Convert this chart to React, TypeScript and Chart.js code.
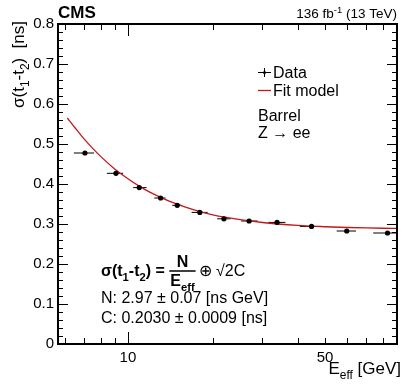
import React, { useEffect, useRef } from 'react';
import { Chart, registerables } from 'chart.js';

Chart.register(...registerables);

// ---- data ----
const energy = [7.04, 9.07, 10.97, 13.06, 14.96, 17.99, 21.9, 26.9, 33.8, 44.8, 59.7, 83.3];
const sigma = [0.4775, 0.4267, 0.391, 0.365, 0.3467, 0.329, 0.313, 0.3075, 0.304, 0.294, 0.2825, 0.2775];
const sigmaErr = [0.004, 0.003, 0.002, 0.002, 0.002, 0.002, 0.002, 0.002, 0.002, 0.002, 0.003, 0.004];
const energyLow = [6.43, 8.42, 10.44, 12.4, 14.36, 16.82, 20.73, 25.22, 31.45, 40.7, 55.0, 74.1];
const energyHigh = [7.58, 9.62, 11.65, 13.6, 15.5, 19.17, 23.13, 28.84, 36.2, 48.9, 64.4, 90];

const fitEnergy = [6.1, 6.5, 7, 7.5, 8, 9, 10, 11, 12, 14, 16, 18, 20, 25, 30, 40, 50, 60, 70, 80, 90];
const fitSigma = [0.565, 0.54, 0.512, 0.489, 0.469, 0.437, 0.413, 0.394, 0.379, 0.357, 0.342, 0.331, 0.323, 0.311, 0.3037, 0.2965, 0.2931, 0.2912, 0.2901, 0.2894, 0.2889];

const xMin = 5.65;
const xMax = 90;
const yMin = 0;
const yMax = 0.8;
const xLabelValues = [10, 50];
const xMajorTicks = [10];
const xMinorTicks = [6, 7, 8, 9, 20, 30, 40, 50, 60, 70, 80, 90];
const yMajorTicks = [0, 0.1, 0.2, 0.3, 0.4, 0.5, 0.6, 0.7, 0.8];

const FONT = '"Liberation Sans", Arial, Helvetica, sans-serif';
const RED = '#c01a1a';

type Part = { t: string; k?: 'sub' | 'sup' };

function setFont(ctx: CanvasRenderingContext2D, size: number, bold: boolean) {
  ctx.font = `${bold ? 'bold ' : ''}${size}px ${FONT}`;
}

function partsWidth(ctx: CanvasRenderingContext2D, parts: Part[], size: number, bold: boolean) {
  let w = 0;
  for (const p of parts) {
    const s = p.k ? size * 0.7 : size;
    setFont(ctx, s, bold);
    w += ctx.measureText(p.t).width;
  }
  return w;
}

function drawParts(
  ctx: CanvasRenderingContext2D,
  parts: Part[],
  x: number,
  y: number,
  size: number,
  bold: boolean,
  align: 'left' | 'right' | 'center' = 'left'
) {
  const w = partsWidth(ctx, parts, size, bold);
  let cx = align === 'left' ? x : align === 'right' ? x - w : x - w / 2;
  ctx.textAlign = 'left';
  ctx.textBaseline = 'alphabetic';
  for (const p of parts) {
    const s = p.k ? size * 0.7 : size;
    setFont(ctx, s, bold);
    const dy = p.k === 'sub' ? size * 0.3 : p.k === 'sup' ? -size * 0.4 : 0;
    ctx.fillText(p.t, cx, y + dy);
    cx += ctx.measureText(p.t).width;
  }
  return w;
}

const decorPlugin = {
  id: 'decor',
  beforeDatasetsDraw(chart: any) {
    const ctx: CanvasRenderingContext2D = chart.ctx;
    const xs = chart.scales.x;
    const ys = chart.scales.y;
    const ca = chart.chartArea;
    ctx.save();
    ctx.beginPath();
    ctx.rect(ca.left, ca.top, ca.right - ca.left, ca.bottom - ca.top);
    ctx.clip();
    ctx.strokeStyle = '#000';
    ctx.lineWidth = 1;
    for (let i = 0; i < energy.length; i++) {
      const py = ys.getPixelForValue(sigma[i]);
      const x0 = xs.getPixelForValue(energyLow[i]);
      const x1 = xs.getPixelForValue(energyHigh[i]);
      const px = xs.getPixelForValue(energy[i]);
      ctx.beginPath();
      ctx.moveTo(x0, py);
      ctx.lineTo(x1, py);
      ctx.moveTo(px, ys.getPixelForValue(sigma[i] - sigmaErr[i]));
      ctx.lineTo(px, ys.getPixelForValue(sigma[i] + sigmaErr[i]));
      ctx.stroke();
    }
    ctx.restore();
  },
  afterDraw(chart: any) {
    const ctx: CanvasRenderingContext2D = chart.ctx;
    const xs = chart.scales.x;
    const ys = chart.scales.y;
    const { left, right, top, bottom } = chart.chartArea;
    ctx.save();
    ctx.fillStyle = '#000';
    ctx.strokeStyle = '#000';

    // ticks (inside, mirrored)
    ctx.lineWidth = 1;
    ctx.beginPath();
    const xt = (v: number, len: number) => {
      const px = Math.round(xs.getPixelForValue(v)) + 0.5;
      ctx.moveTo(px, bottom);
      ctx.lineTo(px, bottom - len);
      ctx.moveTo(px, top);
      ctx.lineTo(px, top + len);
    };
    xMajorTicks.forEach((v) => xt(v, 12));
    xMinorTicks.forEach((v) => { if (v < xMax) xt(v, 6); });
    const yt = (v: number, len: number) => {
      const py = Math.round(ys.getPixelForValue(v)) + 0.5;
      ctx.moveTo(left, py);
      ctx.lineTo(left + len, py);
      ctx.moveTo(right, py);
      ctx.lineTo(right - len, py);
    };
    yMajorTicks.forEach((v) => yt(v, 10));
    for (let i = 0; i < yMajorTicks.length - 1; i++) {
      for (let j = 1; j < 5; j++) yt(yMajorTicks[i] + j * 0.02, 5);
    }
    ctx.stroke();

    // frame
    ctx.lineWidth = 2;
    ctx.strokeRect(left, top, right - left, bottom - top);

    // header
    ctx.fillStyle = '#000';
    drawParts(ctx, [{ t: 'CMS' }], left, 18, 17, true, 'left');
    drawParts(ctx, [{ t: '136 fb' }, { t: '-1', k: 'sup' }, { t: ' (13 TeV)' }], right, 18, 13.5, false, 'right');

    // axis titles
    drawParts(ctx, [{ t: 'E' }, { t: 'eff', k: 'sub' }, { t: ' [GeV]' }], right + 4, 374, 17, false, 'right');
    ctx.save();
    ctx.translate(24, top - 3);
    ctx.rotate(-Math.PI / 2);
    drawParts(ctx, [{ t: 'σ(t' }, { t: '1', k: 'sub' }, { t: '-t' }, { t: '2', k: 'sub' }, { t: ')  [ns]' }], 0, 0, 17, false, 'right');
    ctx.restore();

    // legend
    const lx = 258;
    ctx.lineWidth = 1;
    ctx.beginPath();
    ctx.moveTo(lx, 72.5);
    ctx.lineTo(lx + 13, 72.5);
    ctx.moveTo(lx + 6.5, 68);
    ctx.lineTo(lx + 6.5, 77);
    ctx.stroke();
    ctx.beginPath();
    ctx.arc(lx + 6.5, 72.5, 1.5, 0, Math.PI * 2);
    ctx.fill();
    ctx.strokeStyle = RED;
    ctx.lineWidth = 1.3;
    ctx.beginPath();
    ctx.moveTo(lx, 90.5);
    ctx.lineTo(lx + 13, 90.5);
    ctx.stroke();
    drawParts(ctx, [{ t: 'Data' }], lx + 15, 78, 16, false);
    drawParts(ctx, [{ t: 'Fit model' }], lx + 15, 96, 16, false);
    drawParts(ctx, [{ t: 'Barrel' }], lx, 121, 16, false);
    drawParts(ctx, [{ t: 'Z → ee' }], lx, 138, 16, false);

    // formula
    const fx = 101;
    const fy = 276;
    let cx = fx;
    cx += drawParts(ctx, [{ t: 'σ(t' }, { t: '1', k: 'sub' }, { t: '-t' }, { t: '2', k: 'sub' }, { t: ') = ' }], cx, fy, 16, true);
    const wN = partsWidth(ctx, [{ t: 'N' }], 16, true);
    const wE = partsWidth(ctx, [{ t: 'E' }, { t: 'eff', k: 'sub' }], 16, true);
    const fw = Math.max(wN, wE) + 2;
    drawParts(ctx, [{ t: 'N' }], cx + fw / 2, fy - 9, 16, true, 'center');
    drawParts(ctx, [{ t: 'E' }, { t: 'eff', k: 'sub' }], cx + fw / 2, fy + 10, 16, true, 'center');
    ctx.strokeStyle = '#000';
    ctx.lineWidth = 1.5;
    ctx.beginPath();
    ctx.moveTo(cx, fy - 5);
    ctx.lineTo(cx + fw, fy - 5);
    ctx.stroke();
    cx += fw + 3;
    drawParts(ctx, [{ t: '⊕ √2C' }], cx, fy, 16, false);

    drawParts(ctx, [{ t: 'N: 2.97 ± 0.07 [ns GeV]' }], fx, 303, 16, false);
    drawParts(ctx, [{ t: 'C: 0.2030 ± 0.0009 [ns]' }], fx, 323, 16, false);

    ctx.restore();
  },
};

export default function App() {
  const ref = useRef<HTMLCanvasElement | null>(null);

  useEffect(() => {
    document.body.style.margin = '0';
    const canvas = ref.current;
    if (!canvas) return;
    const chart = new Chart(canvas, {
      type: 'scatter',
      data: {
        datasets: [
          {
            label: 'Data',
            data: energy.map((e, i) => ({ x: e, y: sigma[i] })),
            showLine: false,
            pointRadius: 2.6,
            pointHoverRadius: 2.6,
            pointBackgroundColor: '#000',
            pointBorderColor: '#000',
            pointBorderWidth: 0,
            order: 1,
          },
          {
            label: 'Fit model',
            data: fitEnergy.map((e, i) => ({ x: e, y: fitSigma[i] })),
            showLine: true,
            borderColor: RED,
            borderWidth: 1.3,
            pointRadius: 0,
            cubicInterpolationMode: 'monotone',
            order: 2,
          } as any,
        ],
      },
      options: {
        animation: false,
        responsive: true,
        maintainAspectRatio: false,
        events: [],
        layout: { padding: { top: 24, right: 6, left: 0, bottom: 0 } },
        plugins: {
          legend: { display: false },
          tooltip: { enabled: false },
          title: { display: false },
        },
        scales: {
          x: {
            type: 'logarithmic',
            min: xMin,
            max: xMax,
            grid: { display: false, drawTicks: false },
            border: { display: false },
            afterBuildTicks: (scale: any) => {
              scale.ticks = xLabelValues.map((v) => ({ value: v }));
            },
            afterFit: (scale: any) => {
              scale.height = 40;
            },
            ticks: {
              autoSkip: false,
              maxRotation: 0,
              padding: 5,
              color: '#000',
              font: { family: FONT, size: 15 },
              callback: (v: any) => String(v),
            },
          },
          y: {
            type: 'linear',
            min: yMin,
            max: yMax,
            grid: { display: false, drawTicks: false },
            border: { display: false },
            afterBuildTicks: (scale: any) => {
              scale.ticks = yMajorTicks.map((v) => ({ value: v }));
            },
            afterFit: (scale: any) => {
              scale.width = 58;
            },
            ticks: {
              padding: 4,
              color: '#000',
              font: { family: FONT, size: 15 },
              callback: (v: any) => (Number(v) === 0 ? '0' : Number(v).toFixed(1)),
            },
          },
        },
      },
      plugins: [decorPlugin],
    } as any);
    return () => chart.destroy();
  }, []);

  return (
    <div style={{ position: 'absolute', left: 0, top: 0, width: 403, height: 384, background: '#fff' }}>
      <canvas ref={ref} />
    </div>
  );
}
